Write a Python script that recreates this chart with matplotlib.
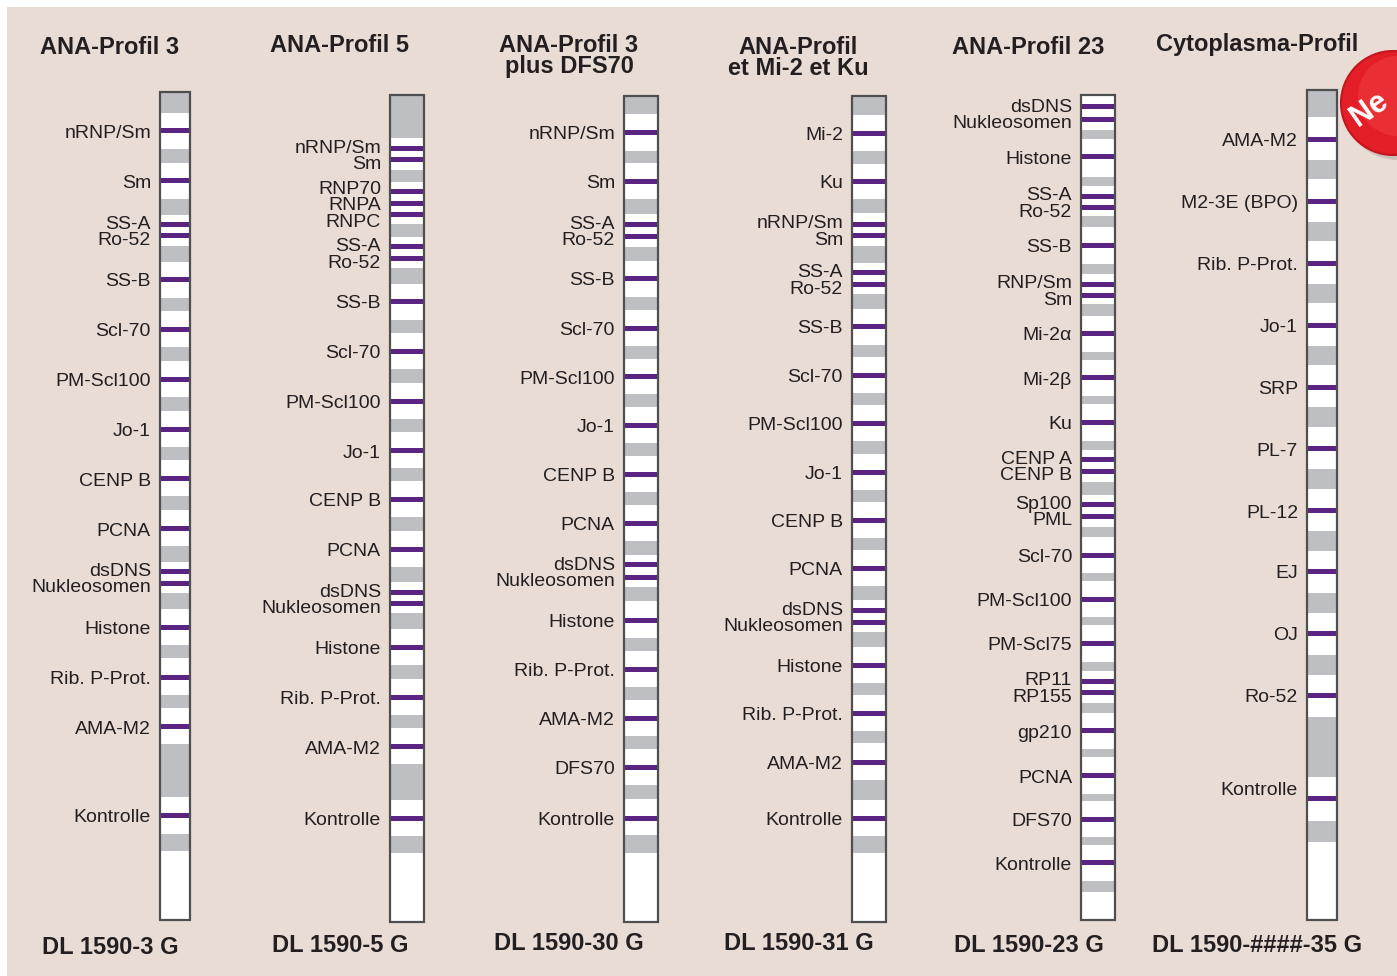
# Immunoblot-Streifen: ANA-Profile (Antigen-Banden auf den Teststreifen)
import matplotlib.pyplot as plt
from matplotlib.patches import Rectangle, Circle

# -------- Daten (Position in px entlang der Bildhöhe) ----------
titel = ["ANA-Profil 3", "ANA-Profil 5", "ANA-Profil 3\nplus DFS70",
         "ANA-Profil\net Mi-2 et Ku", "ANA-Profil 23", "Cytoplasma-Profil"]
bestellnr = ["DL 1590-3 G", "DL 1590-5 G", "DL 1590-30 G",
             "DL 1590-31 G", "DL 1590-23 G", "DL 1590-####-35 G"]

antigene_1 = ["nRNP/Sm", "Sm", "SS-A", "Ro-52", "SS-B", "Scl-70", "PM-Scl100", "Jo-1",
              "CENP B", "PCNA", "dsDNS", "Nukleosomen", "Histone", "Rib. P-Prot.",
              "AMA-M2", "Kontrolle"]
banden_1 = [130.5, 180.5, 224.5, 235.5, 279.5, 329.5, 379.5, 429.5, 478.5, 528.5,
            571, 583.5, 627.5, 677, 726.5, 815.5]
grau_1 = [(92, 113), (149, 163), (199, 215), (246, 262), (298, 311), (347, 361),
          (397, 411), (447, 460), (496, 510), (546, 562), (593, 609), (645, 658),
          (695, 708), (744, 797), (834, 851)]

antigene_2 = ["nRNP/Sm", "Sm", "RNP70", "RNPA", "RNPC", "SS-A", "Ro-52", "SS-B",
              "Scl-70", "PM-Scl100", "Jo-1", "CENP B", "PCNA", "dsDNS", "Nukleosomen",
              "Histone", "Rib. P-Prot.", "AMA-M2", "Kontrolle"]
banden_2 = [148.5, 159.5, 191.5, 203.5, 214.5, 246.5, 258.5, 301.5, 351.5, 401.5,
            450.5, 499.5, 549.5, 592.5, 603.5, 647.5, 697.5, 746.5, 818]
grau_2 = [(95, 138), (170, 182), (224, 237), (268, 284), (320, 333), (369, 383),
          (419, 432), (468, 481), (517, 531), (567, 582), (613, 629), (665, 679),
          (715, 728), (764, 800), (836, 853)]

antigene_3 = ["nRNP/Sm", "Sm", "SS-A", "Ro-52", "SS-B", "Scl-70", "PM-Scl100", "Jo-1",
              "CENP B", "PCNA", "dsDNS", "Nukleosomen", "Histone", "Rib. P-Prot.",
              "AMA-M2", "DFS70", "Kontrolle"]
banden_3 = [132.4, 181, 224, 236, 278, 328, 376.5, 425, 474, 523, 564.5, 577, 620,
            669, 718, 767, 818]
grau_3 = [(96, 114), (151, 163), (199, 214), (247, 261), (297, 310), (346, 359),
          (394, 407), (443, 456), (492, 505), (541, 555), (587, 601), (638, 651),
          (687, 700), (736, 749), (785, 799), (835, 853)]

antigene_4 = ["Mi-2", "Ku", "nRNP/Sm", "Sm", "SS-A", "Ro-52", "SS-B", "Scl-70",
              "PM-Scl100", "Jo-1", "CENP B", "PCNA", "dsDNS", "Nukleosomen", "Histone",
              "Rib. P-Prot.", "AMA-M2", "Kontrolle"]
banden_4 = [133.5, 181.4, 224, 235, 272.5, 284.4, 326, 375, 423, 472, 520, 568, 610,
            622, 665, 713, 762, 818]
grau_4 = [(96, 115), (151, 164), (199, 213), (245.5, 263), (294, 308.6), (345, 357),
          (393, 405), (440.6, 453.5), (490, 501.5), (537.6, 550), (586, 600), (632, 647),
          (683, 695), (730.5, 743), (780, 800), (835.5, 853)]

antigene_5 = ["dsDNS", "Nukleosomen", "Histone", "SS-A", "Ro-52", "SS-B", "RNP/Sm", "Sm",
              "Mi-2α", "Mi-2β", "Ku", "CENP A", "CENP B", "Sp100", "PML", "Scl-70",
              "PM-Scl100", "PM-Scl75", "RP11", "RP155", "gp210", "PCNA", "DFS70",
              "Kontrolle"]
banden_5 = [106.5, 119, 156.7, 196, 207, 245, 284, 295, 333, 377.6, 422, 459.5, 471,
            504, 516, 555, 599, 643, 681, 692, 730.5, 775.7, 819, 862.5]
grau_5 = [(130, 139), (176.6, 185.8), (216, 227), (264, 273.6), (304, 315.6), (352, 360),
          (396, 404), (440.6, 450), (482, 494.5), (527, 536.5), (573, 581), (617, 625),
          (661.5, 671), (702.5, 713), (749, 757), (793.5, 800.5), (837, 844.7), (881, 892)]

antigene_6 = ["AMA-M2", "M2-3E (BPO)", "Rib. P-Prot.", "Jo-1", "SRP", "PL-7", "PL-12",
              "EJ", "OJ", "Ro-52", "Kontrolle"]
banden_6 = [139, 201, 263, 325, 387, 448.7, 510.6, 571.5, 633.5, 695.5, 798]
grau_6 = [(90, 117), (160, 179), (222, 241), (284, 303), (346, 365), (407, 427),
          (469, 489), (531, 551), (593, 613), (655, 675), (717, 777), (820.5, 842)]

# -------- Layout (x-Lage der Streifen, Ober-/Unterkante) ----------
streifen = [  # x0, x1, oben, unten, Titel-x, Titel-y, Nr-y
    (160, 190, 92, 920, 110, 47, 947),
    (390, 424, 95, 922, 340, 45, 945),
    (624, 658, 96, 922, 569, 56, 943),
    (852, 886, 96, 922, 798.5, 58, 943),
    (1081, 1115, 95, 920, 1028.5, 48, 945),
    (1307, 1337, 90, 920, 1257.5, 45, 945),
]
alle_antigene = [antigene_1, antigene_2, antigene_3, antigene_4, antigene_5, antigene_6]
alle_banden = [banden_1, banden_2, banden_3, banden_4, banden_5, banden_6]
alle_grau = [grau_1, grau_2, grau_3, grau_4, grau_5, grau_6]

BEIGE = "#E9DCD5"
GRAU = "#BEBFC3"
LILA = "#5B2382"
RAND = "#4F4F4F"
TXT = "#231F20"

plt.rcParams['font.family'] = ['Liberation Sans', 'DejaVu Sans']

W, H = 1397, 976
fig = plt.figure(figsize=(W / 100, H / 100), dpi=100, facecolor="white")
ax = fig.add_axes([0, 0, 1, 1])
ax.set_xlim(0, W)
ax.set_ylim(H, 0)
ax.axis("off")

ax.add_patch(Rectangle((7, 7), W, H, facecolor=BEIGE, edgecolor="none", zorder=0))

FS_LAB = 14
FS_BOLD = 17


def gruppen(ys, abstand=15):
    """Benachbarte Banden (dicht beieinander) zusammenfassen."""
    g = [[0]]
    for i in range(1, len(ys)):
        if ys[i] - ys[i - 1] < abstand:
            g[-1].append(i)
        else:
            g.append([i])
    return g


for k, (x0, x1, oben, unten, tx, ty, ny) in enumerate(streifen):
    ant, ban, gr = alle_antigene[k], alle_banden[k], alle_grau[k]
    # Streifen
    ax.add_patch(Rectangle((x0, oben), x1 - x0, unten - oben, facecolor="white",
                           edgecolor="none", zorder=2))
    for a, b in gr:
        ax.add_patch(Rectangle((x0, a), x1 - x0, b - a, facecolor=GRAU,
                               edgecolor="none", zorder=3))
    for y in ban:
        ax.add_patch(Rectangle((x0, y - 2.5), x1 - x0, 5, facecolor=LILA,
                               edgecolor="none", zorder=4))
    ax.add_patch(Rectangle((x0, oben), x1 - x0, unten - oben, facecolor="none",
                           edgecolor=RAND, lw=1.6, zorder=5))

    # Beschriftung der Banden
    for grp in gruppen(ban):
        mitte = sum(ban[i] for i in grp) / len(grp)
        for j, i in enumerate(grp):
            y = mitte + (j - (len(grp) - 1) / 2) * 16.5
            if ant[i] == "Kontrolle" and k == 5:
                y -= 10  # im Original etwas über der Bande
            ax.text(x0 - 9, y + 7, ant[i], ha="right", va="baseline",
                    fontsize=FS_LAB, color=TXT, zorder=6)

    # Titel und Bestellnummer
    ax.text(tx, ty, titel[k], ha="center", va="center", fontsize=FS_BOLD,
            fontweight="bold", color=TXT, linespacing=0.9, zorder=6)
    ax.text(tx, ny, bestellnr[k], ha="center", va="center", fontsize=FS_BOLD,
            fontweight="bold", color=TXT, zorder=6)

# -------- "Neu"-Button (rechts angeschnitten) ----------
ax.add_patch(Circle((1397, 108), 52, facecolor="#9A8F8A", alpha=0.35,
                    edgecolor="none", zorder=7))
ax.add_patch(Circle((1393, 103), 52, facecolor="#E31E26", edgecolor="#C4161C",
                    lw=1.5, zorder=8))
ax.add_patch(Circle((1398, 96), 40, facecolor="#EE3A3F", edgecolor="none",
                    alpha=0.6, zorder=8))
ax.text(1358, 127, "Ne", ha="left", va="baseline", rotation=35,
        rotation_mode="anchor", fontsize=22, fontweight="bold", color="white",
        zorder=9)

fig.savefig("out.png", dpi=100, facecolor="white")
